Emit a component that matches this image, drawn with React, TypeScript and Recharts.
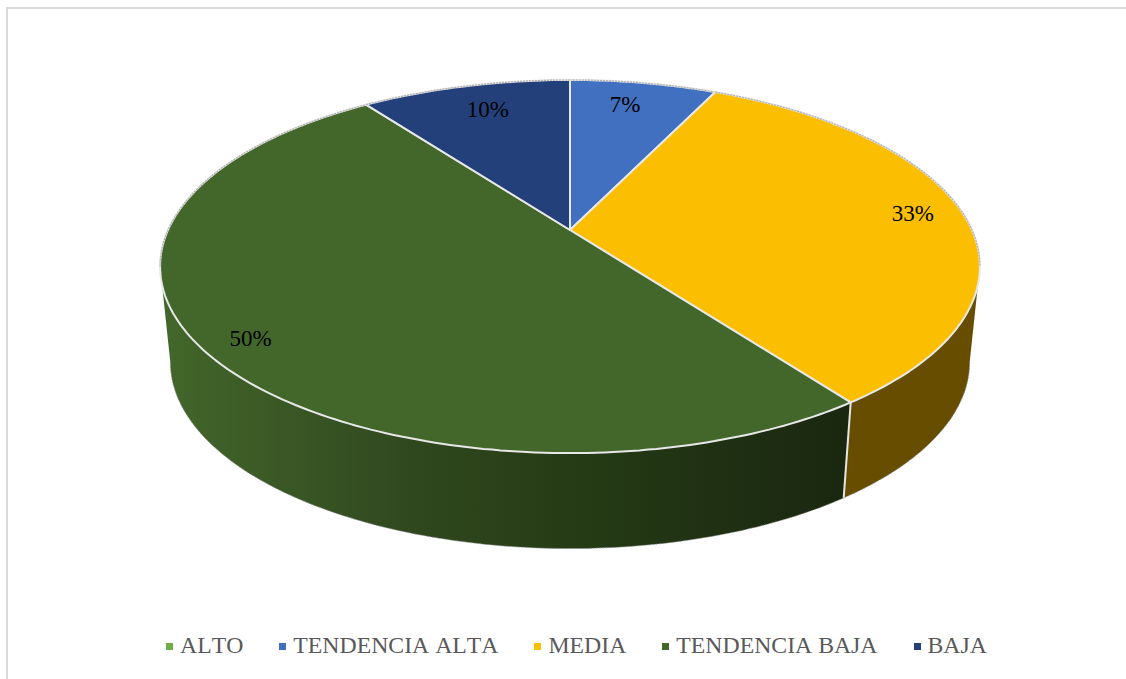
import { Legend, Pie, PieChart } from "recharts";

const categories = ["ALTO", "TENDENCIA ALTA", "MEDIA", "TENDENCIA BAJA", "BAJA"];
const shares = [0, 7, 33, 50, 10];
const colors = ["#70AD47", "#4270C0", "#FBBE00", "#43672B", "#23407A"];
const wallColors = ["#70AD47", "#4270C0", "#664D00", "url(#greenWall)", "#23407A"];
// label shift per slice, Excel put them by "best fit"
const labelShift = [[0, 0], [-9, 3], [8, -2], [-13, 9], [9, 5]];

const data = categories.map((name, i) => ({ name, value: shares[i], fill: colors[i] }));

// tilted disc: the pie's centre is not the centre of the ellipse, so use a perspective map
const CX = 570;
const CY = 230;
const A = 402;
const B = 179.4;
const K = 0.1957;
const DEPTH = 95.5;
const SHRINK = 0.975;
const RAD = Math.PI / 180;

function project(angle: number, rho = 1) {
  const u = rho * Math.cos(angle * RAD);
  const v = -rho * Math.sin(angle * RAD);
  const w = 1 - K * v;
  return { x: CX + (A * u) / w, y: CY + (B * v) / w };
}

function lower(p: { x: number; y: number }) {
  return { x: CX + SHRINK * (p.x - CX), y: p.y + DEPTH };
}

function arc(from: number, to: number) {
  const n = Math.max(1, Math.ceil(Math.abs(to - from)));
  const pts = [];
  for (let i = 0; i <= n; i++) pts.push(project(from + ((to - from) * i) / n));
  return pts;
}

const toPath = (pts: { x: number; y: number }[]) =>
  pts.map((p, i) => `${i ? "L" : "M"}${p.x.toFixed(1)} ${p.y.toFixed(1)}`).join(" ");

// front of the wall runs between these two (recharts angles, clockwise from -11 to -169)
const WALL_START = -11.3;
const WALL_END = -168.7;

function DiscSlice(props: any) {
  const { startAngle, endAngle, fill, index } = props;
  if (Math.abs(startAngle - endAngle) < 0.01) return null;

  const from = Math.min(startAngle, WALL_START);
  const to = Math.max(endAngle, WALL_END);
  const hasWall = from > to;
  const top = arc(startAngle, endAngle);
  const topPath = `${toPath(top)} L${CX} ${CY} Z`;

  let wall = null;
  if (hasWall) {
    const upper = arc(from, to);
    const bottom = upper.map(lower);
    wall = (
      <g>
        <path d={`${toPath(upper)} ${toPath(bottom.slice().reverse()).replace("M", "L")} Z`} fill={wallColors[index]} />
        <path d={toPath(bottom)} fill="none" stroke="#8a8a8a" strokeOpacity={0.7} strokeWidth={1} strokeDasharray="2 1" />
        {from === startAngle && <path d={toPath([upper[0], bottom[0]])} stroke="#e6e6e6" strokeWidth={2} />}
      </g>
    );
  }

  // grey rim on the back half of the disc, the part with no wall under it
  const backFrom = startAngle;
  const backTo = hasWall ? from : endAngle;
  const backFrom2 = hasWall ? to : endAngle;
  const backTo2 = endAngle;
  const rim = { fill: "none", stroke: "#8a8a8a", strokeOpacity: 0.6, strokeWidth: 1.2, strokeDasharray: "2 1" };

  return (
    <g>
      {wall}
      <path d={topPath} fill={fill} stroke="#e8e8e8" strokeWidth={2} strokeLinejoin="round" />
      {backFrom > backTo && <path d={toPath(arc(backFrom, backTo))} {...rim} />}
      {backFrom2 > backTo2 && <path d={toPath(arc(backFrom2, backTo2))} {...rim} />}
    </g>
  );
}

function renderLabel(props: any) {
  const { midAngle, percent, index } = props;
  if (!percent) return null;
  const p = project(midAngle, 0.85);
  return (
    <text
      x={p.x + labelShift[index][0]}
      y={p.y + labelShift[index][1]}
      textAnchor="middle"
      dominantBaseline="central"
      fill="#000"
      fontSize={23}
      fontFamily="'Liberation Serif', serif"
    >
      {`${Math.round(percent * 100)}%`}
    </text>
  );
}

function LegendRow({ payload }: any) {
  return (
    <div style={{ display: "flex", alignItems: "center", paddingLeft: 166, gap: 36 }}>
      {(payload || []).map((item: any) => (
        <div key={item.value} style={{ display: "flex", alignItems: "center", gap: 7 }}>
          <span style={{ width: 7, height: 7, background: item.color, display: "block", marginTop: 3 }} />
          <span style={{ color: "#595959", fontSize: 23.75, fontKerning: "none", fontFamily: "'Liberation Serif', serif", lineHeight: "30px" }}>
            {item.value}
          </span>
        </div>
      ))}
    </div>
  );
}

export default function App() {
  return (
    <div style={{ position: "absolute", left: 0, top: 0, width: 1126, height: 679, background: "#fff", overflow: "hidden" }}>
      <div style={{ position: "absolute", left: 6, top: 7, width: 1120, height: 672, borderLeft: "2px solid #d9d9d9", borderTop: "2px solid #d9d9d9" }} />
      <PieChart width={1126} height={679} margin={{ top: 0, right: 0, bottom: 0, left: 0 }}>
        <defs>
          <linearGradient id="greenWall" gradientUnits="userSpaceOnUse" x1={160} y1={0} x2={850} y2={0}>
            <stop offset="0%" stopColor="#43672B" />
            <stop offset="35%" stopColor="#31491F" />
            <stop offset="60%" stopColor="#253B15" />
            <stop offset="100%" stopColor="#1A2710" />
          </linearGradient>
        </defs>
        <Pie
          data={data}
          dataKey="value"
          nameKey="name"
          cx={CX}
          cy={CY}
          outerRadius={150}
          startAngle={90}
          endAngle={-270}
          stroke="none"
          shape={DiscSlice}
          label={renderLabel}
          labelLine={false}
          isAnimationActive={false}
        />
        <Legend content={<LegendRow />} itemSorter={null} wrapperStyle={{ left: 0, top: 630, width: 1126 }} />
      </PieChart>
    </div>
  );
}
